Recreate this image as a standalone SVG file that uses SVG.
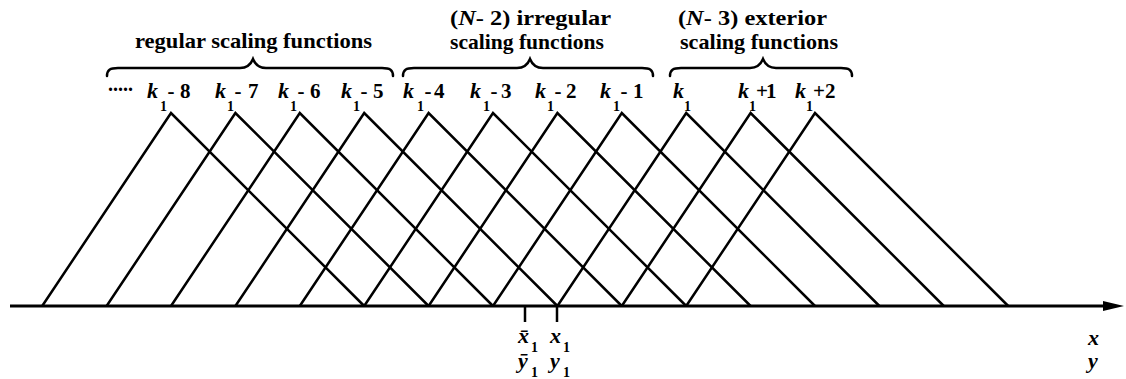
<svg xmlns="http://www.w3.org/2000/svg" width="1126" height="379" viewBox="0 0 1126 379">
<style>
.t{font-family:"Liberation Serif","Times New Roman",serif;font-weight:bold;font-size:21px;fill:#000}
.it{font-style:italic}
.lb{font-family:"Liberation Serif","Times New Roman",serif;font-weight:bold;font-size:21px;fill:#000}
.k{font-style:italic;font-size:22px}
.s{font-size:14px;font-style:normal}
.tri{fill:none;stroke:#000;stroke-width:2.5;stroke-linejoin:miter}
.br{fill:none;stroke:#000;stroke-width:2.5;stroke-linecap:round}
.ax{stroke:#000;stroke-width:3}
.tk{stroke:#000;stroke-width:2.5}
</style>
<rect width="1126" height="379" fill="#fff"/>
<g id="connectors">
<polyline class="tri" points="42.2,306 171,113 364.2,306"/>
<polyline class="tri" points="106.6,306 235.4,113 428.6,306"/>
<polyline class="tri" points="171,306 299.8,113 493,306"/>
<polyline class="tri" points="235.4,306 364.2,113 557.4,306"/>
<polyline class="tri" points="299.8,306 428.6,113 621.8,306"/>
<polyline class="tri" points="364.2,306 493,113 686.2,306"/>
<polyline class="tri" points="428.6,306 557.4,113 750.6,306"/>
<polyline class="tri" points="493,306 621.8,113 815,306"/>
<polyline class="tri" points="557.4,306 686.2,113 879.4,306"/>
<polyline class="tri" points="621.8,306 750.6,113 943.8,306"/>
<polyline class="tri" points="686.2,306 815,113 1008.2,306"/>
</g>
<g id="axis">
<line class="ax" x1="10" y1="306" x2="1108" y2="306"/>
<polygon points="1124,306 1103,301 1103,311" fill="#000"/>
<line class="tk" x1="525" y1="306" x2="525" y2="322"/>
<line class="tk" x1="557" y1="306" x2="557" y2="322"/>
</g>
<g id="braces">
<path class="br" d="M107,76 C107,70 110,68 118,68 L240,68 C248,68 251,64 253,59 C255,64 258,68 266,68 L382,68 C390,68 393,70 393,76"/>
<path class="br" d="M403,76 C403,70 406,68 414,68 L517,68 C525,68 528,64 530,59 C532,64 535,68 543,68 L642,68 C650,68 653,70 653,76"/>
<path class="br" d="M670,76 C670,70 673,68 681,68 L750,68 C758,68 761,64 763,59 C765,64 768,68 776,68 L841,68 C849,68 852,70 852,76"/>
</g>
<g id="group-regular">
<text class="t" x="135" y="48" textLength="237" lengthAdjust="spacingAndGlyphs">regular scaling functions</text>
</g>
<g id="group-irregular">
<text class="t" x="450" y="25" textLength="161" lengthAdjust="spacingAndGlyphs">(<tspan class="it">N</tspan>- 2) irregular</text>
<text class="t" x="450" y="49" textLength="154" lengthAdjust="spacingAndGlyphs">scaling functions</text>
</g>
<g id="group-exterior">
<text class="t" x="678" y="25" textLength="149" lengthAdjust="spacingAndGlyphs">(<tspan class="it">N</tspan>- 3) exterior</text>
<text class="t" x="680" y="49" textLength="158" lengthAdjust="spacingAndGlyphs">scaling functions</text>
</g>
<g id="labels">
<text class="lb" x="108" y="91" textLength="25" lengthAdjust="spacingAndGlyphs">.....</text>
<text id="k1m8" class="lb" y="98"><tspan class="k" x="147">k</tspan><tspan class="s" x="160" dy="13">1</tspan><tspan x="167.5" dy="-13">-</tspan><tspan x="180">8</tspan></text>
<text id="k1m7" class="lb" y="98"><tspan class="k" x="215">k</tspan><tspan class="s" x="227" dy="13">1</tspan><tspan x="234.5" dy="-13">-</tspan><tspan x="248">7</tspan></text>
<text id="k1m6" class="lb" y="98"><tspan class="k" x="278">k</tspan><tspan class="s" x="290" dy="13">1</tspan><tspan x="297.5" dy="-13">-</tspan><tspan x="310">6</tspan></text>
<text id="k1m5" class="lb" y="98"><tspan class="k" x="341">k</tspan><tspan class="s" x="353" dy="13">1</tspan><tspan x="360.5" dy="-13">-</tspan><tspan x="373">5</tspan></text>
<text id="k1m4" class="lb" y="98"><tspan class="k" x="403">k</tspan><tspan class="s" x="417" dy="13">1</tspan><tspan x="424.5" dy="-13">-</tspan><tspan x="434">4</tspan></text>
<text id="k1m3" class="lb" y="98"><tspan class="k" x="470">k</tspan><tspan class="s" x="483" dy="13">1</tspan><tspan x="490.5" dy="-13">-</tspan><tspan x="501">3</tspan></text>
<text id="k1m2" class="lb" y="98"><tspan class="k" x="535">k</tspan><tspan class="s" x="547" dy="13">1</tspan><tspan x="554.5" dy="-13">-</tspan><tspan x="566">2</tspan></text>
<text id="k1m1" class="lb" y="98"><tspan class="k" x="600">k</tspan><tspan class="s" x="613" dy="13">1</tspan><tspan x="620.5" dy="-13">-</tspan><tspan x="633">1</tspan></text>
<text id="k1" class="lb" y="98"><tspan class="k" x="673">k</tspan><tspan class="s" x="684" dy="13">1</tspan></text>
<text id="k1p1" class="lb" y="98"><tspan class="k" x="738">k</tspan><tspan class="s" x="749" dy="13">1</tspan><tspan x="756" dy="-13">+</tspan><tspan x="766">1</tspan></text>
<text id="k1p2" class="lb" y="98"><tspan class="k" x="795">k</tspan><tspan class="s" x="806" dy="13">1</tspan><tspan x="813" dy="-13">+</tspan><tspan x="825">2</tspan></text>
</g>
<g id="axis-labels">
<text class="lb" x="518" y="343"><tspan class="k">x̄</tspan><tspan class="s" x="531" dy="9">1</tspan></text>
<text class="lb" x="518" y="368"><tspan class="k">ȳ</tspan><tspan class="s" x="531" dy="9">1</tspan></text>
<text class="lb" x="550" y="343"><tspan class="k">x</tspan><tspan class="s" x="563" dy="9">1</tspan></text>
<text class="lb" x="550" y="368"><tspan class="k">y</tspan><tspan class="s" x="563" dy="9">1</tspan></text>
<text class="lb k" x="1088" y="345">x</text>
<text class="lb k" x="1088" y="368">y</text>
</g>
</svg>
